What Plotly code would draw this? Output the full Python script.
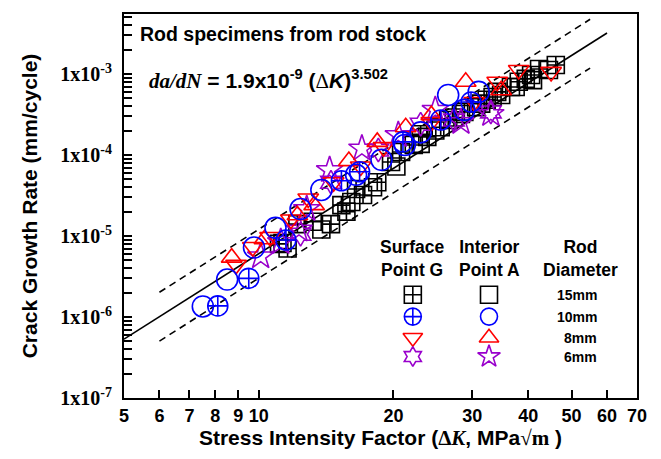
import plotly.graph_objects as go
import numpy as np

# ---------------- data (ΔK in MPa√m, da/dN in mm/cycle) ----------------
g15_dk = [11.1, 11.6, 12.2, 13.2, 14.5, 15.3, 15.7, 16.5, 17.1, 18.4, 19.75, 20.8, 22.2, 23.0, 23.8,
          25.5, 26.5, 27.3, 28.8, 31.4, 32.3, 33.3, 34.1, 36.6, 38.1, 39.5, 40.6, 42.3, 46.1]
g15_rate = [8.0e-6, 7.0e-6, 1.4e-5, 1.5e-5, 1.4e-5, 2.4e-5, 2.0e-5, 3.8e-5, 3.2e-5, 4.6e-5, 8.2e-5, 1.09e-4,
            1.33e-4, 1.8e-4, 1.67e-4, 2.2e-4, 2.7e-4, 2.9e-4, 3.4e-4, 4.3e-4, 4.8e-4, 5.2e-4, 6.0e-4,
            6.9e-4, 8.0e-4, 8.7e-4, 9.7e-4, 1.15e-3, 1.29e-3]

a15_dk = [11.3, 13.8, 16.1, 18.0, 20.3, 23.0, 24.8, 28.3, 30.6, 34.8, 37.5, 41.0, 44.5]
a15_rate = [8.2e-6, 1.2e-5, 2.63e-5, 4.0e-5, 7.2e-5, 1.37e-4, 2.0e-4, 3.2e-4, 3.9e-4, 5.5e-4, 6.9e-4, 8.4e-4, 1.12e-3]

g10_dk = [8.1, 9.5, 11.5, 15.3, 16.8, 21.0, 25.5, 29.8]
g10_rate = [1.37e-6, 3.0e-6, 8.9e-6, 4.8e-5, 6.2e-5, 1.45e-4, 2.7e-4, 4.5e-4]

a10_dk = [7.5, 8.5, 9.76, 10.9, 12.4, 13.8, 16.5, 18.8, 21.2, 23.0, 26.5, 28.8, 31.0]
a10_rate = [1.35e-6, 2.9e-6, 7.2e-6, 1.26e-5, 2.15e-5, 3.7e-5, 5.7e-5, 8.7e-5, 1.33e-4, 1.9e-4, 5.5e-4, 3.6e-4, 6.0e-4]

g8_dk = [8.9, 9.7, 10.6, 11.8, 12.9, 14.7, 16.9, 19.0, 24.3, 30.3, 34.1, 38.1, 45.0]
g8_rate = [4.4e-6, 7.3e-6, 9.7e-6, 1.6e-5, 2.9e-5, 4.6e-5, 7.2e-5, 1.25e-4, 2.55e-4, 4.5e-4, 8.0e-4, 1.12e-3, 1.06e-3]

a8_dk = [8.7, 10.3, 12.2, 13.3, 15.9, 18.4, 21.3, 24.3, 29.0, 34.8]
a8_rate = [5.4e-6, 9.1e-6, 1.8e-5, 2.4e-5, 8.4e-5, 1.45e-4, 2.2e-4, 3.1e-4, 8.0e-4, 6.3e-4]

g6_dk = [12.4, 14.5, 18.5, 23.0, 27.3, 33.0]
g6_rate = [1.05e-5, 4.6e-5, 1.15e-4, 2.4e-4, 2.7e-4, 3.4e-4]

a6_dk = [10.1, 11.2, 12.3, 12.8, 14.4, 17.0, 20.5, 24.8, 28.3, 33.0]
a6_rate = [5.6e-6, 8.4e-6, 1.2e-5, 2.15e-5, 6.5e-5, 1.2e-4, 1.76e-4, 3.6e-4, 2.55e-4, 3.2e-4]

# Paris-law fit
C_fit = 1.9e-9
n_fit = 3.502
fit_dk = [5, 60]
band_dk = [6, 55]
band_factor = 2.0

x_ticks = [5, 6, 7, 8, 9, 10, 20, 30, 40, 50, 60, 70]
y_decades = [-7, -6, -5, -4, -3]

sizes = ["15mm", "10mm", "8mm", "6mm"]

BLACK, BLUE, RED, PURPLE = "#000000", "#0000ff", "#ff0000", "#9900cc"

series = [
    (g15_dk, g15_rate, "square-cross-open", BLACK, 17),
    (a15_dk, a15_rate, "square-open", BLACK, 17),
    (a6_dk, a6_rate, "star-open", PURPLE, 20),
    (g6_dk, g6_rate, "hexagram-open", PURPLE, 18),
    (g8_dk, g8_rate, "triangle-down-open", RED, 18),
    (a8_dk, a8_rate, "triangle-up-open", RED, 18),
    (a10_dk, a10_rate, "circle-open", BLUE, 21),
    (g10_dk, g10_rate, "circle-cross-open", BLUE, 20),
]

fig = go.Figure()

fit_y = [C_fit * k ** n_fit for k in fit_dk]
fig.add_trace(go.Scatter(x=fit_dk, y=fit_y, mode="lines", line=dict(color="black", width=1.6),
                         showlegend=False, hoverinfo="skip"))
for f in (band_factor, 1 / band_factor):
    fig.add_trace(go.Scatter(x=band_dk, y=[f * C_fit * k ** n_fit for k in band_dk], mode="lines",
                             line=dict(color="black", width=1.6, dash="7px,5px"),
                             showlegend=False, hoverinfo="skip"))

for dk, rate, sym, col, sz in series:
    fig.add_trace(go.Scatter(x=dk, y=rate, mode="markers",
                             marker=dict(symbol=sym, size=sz, color=col, line=dict(width=1.6, color=col)),
                             showlegend=False))

# ---------------- custom legend on overlay axes ----------------
leg_rows = [0.269, 0.212, 0.157, 0.108]
leg_cols = [0.563, 0.7115]
surf_syms = [("square-cross-open", BLACK, 17), ("circle-cross-open", BLUE, 17),
             ("triangle-down-open", RED, 17), ("hexagram-open", PURPLE, 15)]
int_syms = [("square-open", BLACK, 17), ("circle-open", BLUE, 17),
            ("triangle-up-open", RED, 17), ("star-open", PURPLE, 17)]
for col_x, syms in zip(leg_cols, (surf_syms, int_syms)):
    for row_y, (sym, c, sz) in zip(leg_rows, syms):
        fig.add_trace(go.Scatter(x=[col_x], y=[row_y], xaxis="x2", yaxis="y2", mode="markers",
                                 marker=dict(symbol=sym, size=sz, color=c, line=dict(width=1.6, color=c)),
                                 showlegend=False, hoverinfo="skip"))

y_tickvals, y_ticktext = [], []
for d in y_decades:
    for m in range(1, 10):
        v = m * 10.0 ** d
        if d == -3 and m > 5:
            continue
        y_tickvals.append(v)
        y_ticktext.append(f"1x10<sup>{d}</sup>" if m == 1 else "")

# page body has an 8px margin: figure is sized so the plot box lands where the reference has it
fig.update_layout(
    width=653, height=451,
    margin=dict(l=116, r=24, t=4, b=61),
    paper_bgcolor="white", plot_bgcolor="white",
    font=dict(family="Liberation Sans, Arial", color="black"),
    xaxis=dict(type="log", range=[np.log10(5), np.log10(70)], tickvals=x_ticks,
               ticktext=[str(v) for v in x_ticks], ticks="inside", ticklen=8, tickwidth=1.5,
               tickcolor="black", showline=True, linewidth=2, linecolor="black", mirror=True,
               showgrid=False, zeroline=False,
               tickfont=dict(size=18, family="Liberation Sans, Arial", weight="bold"),
               title=dict(text="Stress Intensity Factor (<span style='font-family:Liberation Serif'>Δ<i>K</i></span>, MPa<span style='font-family:Liberation Serif'>√m</span> )",
                          font=dict(size=21, weight="bold"), standoff=5)),
    yaxis=dict(type="log", range=[-7.0, -2.26], tickvals=y_tickvals, ticktext=y_ticktext,
               ticks="inside", ticklen=8, tickwidth=1.5, tickcolor="black",
               showline=True, linewidth=2, linecolor="black", mirror=True,
               showgrid=False, zeroline=False, ticklabelstandoff=6,
               tickfont=dict(size=20, family="Liberation Serif, Times New Roman", weight="bold"),
               title=dict(text="Crack Growth Rate (mm/cycle)", font=dict(size=21, weight="bold"), standoff=17)),
    xaxis2=dict(domain=[0, 1], range=[0, 1], anchor="y2", overlaying="x", visible=False, fixedrange=True),
    yaxis2=dict(domain=[0, 1], range=[0, 1], anchor="x2", overlaying="y", visible=False, fixedrange=True),
)

ann = []
ann.append(dict(text="<b>Rod specimens from rod stock</b>", x=0.027, y=0.948, xref="paper", yref="paper",
                xanchor="left", yanchor="middle", showarrow=False, font=dict(size=19.5)))
ann.append(dict(text="<span style='font-family:Liberation Serif'><b><i>da/dN</i></b></span><b> = 1.9x10<sup>-9</sup> (</b><span style='font-family:Liberation Serif'>Δ</span><b><i>K</i>)<sup>3.502</sup></b>",
                x=0.045, y=0.83, xref="paper", yref="paper", xanchor="left", yanchor="middle",
                showarrow=False, font=dict(size=21)))
for txt, xx in (("Surface<br>Point G", 0.561), ("Interior<br>Point A", 0.713), ("Rod<br>Diameter", 0.889)):
    ann.append(dict(text=f"<b>{txt}</b>", x=xx, y=0.362, xref="paper", yref="paper", xanchor="center",
                    yanchor="middle", showarrow=False, font=dict(size=17.5)))
for txt, row_y in zip(sizes, leg_rows):
    ann.append(dict(text=f"<b>{txt}</b>", x=0.925, y=row_y, xref="paper", yref="paper", xanchor="right",
                    yanchor="middle", showarrow=False, font=dict(size=14)))
fig.update_layout(annotations=ann)

fig.write_html("out.html")
